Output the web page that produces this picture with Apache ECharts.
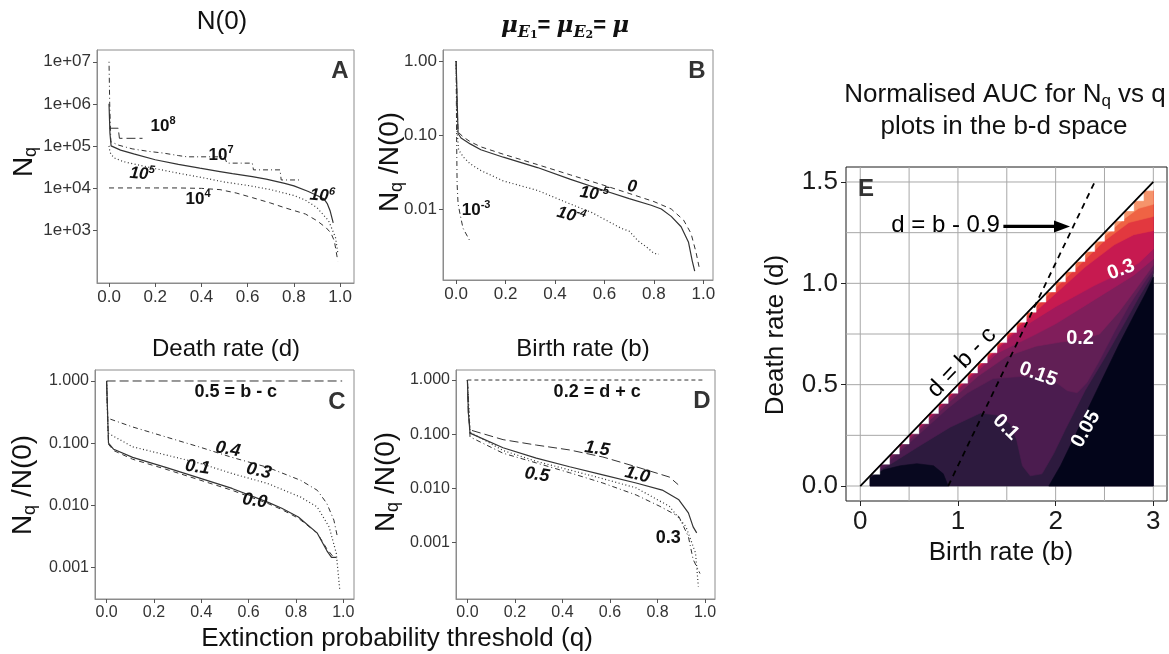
<!DOCTYPE html>
<html><head><meta charset="utf-8">
<script src="https://cdn.jsdelivr.net/npm/echarts@6.0.0/dist/echarts.min.js"></script>
<style>html,body{margin:0;padding:0;background:#fff;}#chart{width:1169px;height:654px;}</style>
</head><body><div id="chart"></div>
<script>
const FONT = '"Liberation Sans", Arial, Helvetica, sans-serif';

// ================= DATA =================
// Panels A-D : points are [q, log10(value)]
const Q_TICKS = [0, 0.2, 0.4, 0.6, 0.8, 1.0];

// ---- Panel A : N(0) ; value = Nq ----
const A_Y_TICKS = [3, 4, 5, 6, 7];            // 1e+03 ... 1e+07
const A_N0_1e4 = [[0,4.0],[0.1,4.0],[0.2,4.0],[0.3,4.0],[0.4,3.99],[0.48,3.96],[0.55,3.88],[0.62,3.77],[0.7,3.64],[0.76,3.53],[0.85,3.38],[0.9,3.22],[0.94,3.05],[0.96,2.93],[0.975,2.74],[0.99,2.26]];
const A_N0_1e5 = [[0,5.0],[0.004,4.85],[0.02,4.72],[0.06,4.63],[0.107,4.57],[0.2,4.46],[0.3,4.35],[0.4,4.25],[0.5,4.14],[0.6,4.06],[0.7,3.96],[0.8,3.82],[0.85,3.71],[0.9,3.53],[0.95,3.22],[0.98,2.82],[0.99,2.45]];
const A_N0_1e6 = [[0,6.0],[0.004,5.3],[0.009,5.0],[0.05,4.9],[0.107,4.81],[0.2,4.67],[0.3,4.56],[0.393,4.47],[0.48,4.39],[0.534,4.34],[0.62,4.27],[0.68,4.21],[0.76,4.11],[0.8,4.05],[0.86,3.92],[0.9,3.82],[0.93,3.74],[0.945,3.62],[0.957,3.45],[0.97,3.17]];
const A_N0_1e7 = [[0,7.0],[0.003,6.0],[0.008,5.1],[0.04,5.02],[0.1,4.93],[0.17,4.87],[0.234,4.83],[0.3,4.77],[0.338,4.74],[0.5,4.74],[0.51,4.59],[0.62,4.59],[0.625,4.43],[0.74,4.43],[0.745,4.19],[0.835,4.19]];
const A_N0_1e8 = [[0.002,5.42],[0.04,5.42],[0.045,5.18],[0.145,5.18]];

// ---- Panel B : mu ; value = Nq/N(0) ----
const B_Y_TICKS = [-2, -1, 0];                // 0.01, 0.10, 1.00
const B_mu_0    = [[0,0],[0.004,-0.6],[0.008,-0.96],[0.03,-1.03],[0.057,-1.09],[0.1,-1.16],[0.191,-1.26],[0.329,-1.4],[0.463,-1.54],[0.598,-1.68],[0.7,-1.79],[0.8,-1.9],[0.87,-2.0],[0.92,-2.15],[0.95,-2.33],[0.97,-2.58],[0.985,-2.82]];
const B_mu_1e5  = [[0,0],[0.004,-0.5],[0.008,-0.98],[0.02,-1.04],[0.057,-1.12],[0.1,-1.2],[0.191,-1.3],[0.329,-1.44],[0.463,-1.6],[0.598,-1.75],[0.7,-1.86],[0.789,-1.95],[0.83,-2.0],[0.87,-2.1],[0.91,-2.24],[0.94,-2.45],[0.955,-2.7],[0.965,-2.84]];
const B_mu_1e4  = [[0,0],[0.004,-0.95],[0.01,-1.2],[0.03,-1.3],[0.057,-1.39],[0.1,-1.48],[0.19,-1.62],[0.33,-1.75],[0.46,-1.93],[0.55,-2.05],[0.6,-2.14],[0.667,-2.26],[0.7,-2.3],[0.736,-2.43],[0.776,-2.53],[0.8,-2.6],[0.82,-2.61]];
const B_mu_1e3  = [[0,0],[0.002,-1.0],[0.004,-1.66],[0.008,-1.93],[0.016,-2.07],[0.028,-2.26],[0.057,-2.44]];

// ---- Panel C : death rate d ; value = Nq/N(0) ----
const CD_Y_TICKS = [-3, -2, -1, 0];           // 0.001 ... 1.000
const C_d_00 = [[0,0],[0.008,-1.02],[0.03,-1.12],[0.11,-1.26],[0.25,-1.42],[0.39,-1.59],[0.53,-1.76],[0.68,-1.97],[0.74,-2.07],[0.81,-2.21],[0.89,-2.45],[0.93,-2.7],[0.955,-2.82],[0.97,-2.85]];
const C_d_01 = [[0,0],[0.008,-1.0],[0.03,-1.1],[0.11,-1.23],[0.25,-1.39],[0.39,-1.56],[0.53,-1.73],[0.68,-1.95],[0.74,-2.05],[0.81,-2.19],[0.89,-2.45],[0.93,-2.73],[0.95,-2.84],[0.97,-2.84]];
const C_d_03 = [[0,0],[0.006,-0.84],[0.11,-1.06],[0.25,-1.19],[0.39,-1.32],[0.53,-1.49],[0.68,-1.65],[0.82,-1.87],[0.89,-2.03],[0.94,-2.35],[0.97,-2.77],[0.985,-3.37]];
const C_d_04 = [[0,0],[0.005,-0.6],[0.11,-0.74],[0.25,-0.9],[0.39,-1.06],[0.53,-1.23],[0.68,-1.39],[0.82,-1.6],[0.89,-1.76],[0.93,-1.97],[0.96,-2.24],[0.975,-2.51]];
const C_d_05 = [[0,0],[0.995,0]];

// ---- Panel D : birth rate b ; value = Nq/N(0) ----
const D_b_02 = [[0,0],[0.995,0]];
const D_b_03 = [[0,0],[0.011,-0.96],[0.15,-1.3],[0.29,-1.5],[0.43,-1.66],[0.57,-1.82],[0.71,-1.99],[0.85,-2.33],[0.92,-2.71],[0.96,-3.19],[0.972,-3.81]];
const D_b_05 = [[0,0],[0.011,-1.05],[0.15,-1.35],[0.29,-1.53],[0.43,-1.71],[0.57,-1.9],[0.71,-2.12],[0.81,-2.33],[0.89,-2.52],[0.93,-2.89],[0.95,-3.31],[0.979,-3.57]];
const D_b_10 = [[0,0],[0.004,-0.6],[0.011,-0.98],[0.15,-1.25],[0.29,-1.44],[0.43,-1.6],[0.57,-1.75],[0.71,-1.9],[0.82,-2.03],[0.89,-2.21],[0.93,-2.45],[0.95,-2.71],[0.965,-2.82]];
const D_b_15 = [[0,0],[0.004,-0.6],[0.011,-0.92],[0.15,-1.1],[0.29,-1.2],[0.43,-1.29],[0.57,-1.42],[0.71,-1.6],[0.85,-1.79],[0.887,-1.93]];

// ---- Panel E : normalised AUC contours in b-d space, [b, d] ----
const E_X_LABELS = [0, 1, 2, 3];
const E_X_GRID   = [0, 0.5, 1, 1.5, 2, 2.5, 3];
const E_Y_LABELS = [0, 0.5, 1, 1.5];
const E_Y_GRID   = [0, 0.25, 0.5, 0.75, 1, 1.25, 1.5];
const E_region      = [[0.1,0],[3.0,0],[3.0,1.46],[2.92,1.46],[0.1,0.05]];
const E_below_005   = [[1.93,0],[2.05,0.1],[2.2,0.25],[2.35,0.4],[2.5,0.55],[2.65,0.7],[2.8,0.84],[2.92,0.95],[3.0,1.03],[3.0,0]];
const E_low_blob    = [[0.1,0],[0.1,0.04],[0.24,0.08],[0.41,0.1],[0.58,0.11],[0.75,0.1],[0.85,0.06],[0.9,0]];
const E_contour_010 = [[0.12,0.06],[0.3,0.105],[0.58,0.19],[0.92,0.29],[1.23,0.36],[1.4,0.35],[1.53,0.31],[1.6,0.23],[1.66,0.1],[1.74,0.05],[1.86,0.06],[1.98,0.16],[2.1,0.28],[2.3,0.47],[2.5,0.63],[2.7,0.8],[2.85,0.93],[3.0,1.05]];
const E_contour_015 = [[0.14,0.07],[0.3,0.125],[0.6,0.255],[0.9,0.385],[1.1,0.46],[1.36,0.53],[1.64,0.54],[1.85,0.54],[1.98,0.52],[2.12,0.47],[2.22,0.46],[2.32,0.51],[2.45,0.62],[2.6,0.76],[2.75,0.89],[2.9,1.0],[3.0,1.07]];
const E_contour_020 = [[0.16,0.08],[0.3,0.137],[0.5,0.228],[0.9,0.41],[1.2,0.54],[1.5,0.64],[1.8,0.69],[2.05,0.71],[2.25,0.72],[2.45,0.75],[2.65,0.86],[2.85,0.99],[3.0,1.09]];
const E_contour_025 = [[0.18,0.09],[0.6,0.283],[1.0,0.475],[1.4,0.655],[1.8,0.75],[2.0,0.8],[2.2,0.86],[2.5,0.95],[2.8,1.04],[3.0,1.12]];
const E_contour_030 = [[0.2,0.1],[0.7,0.337],[1.2,0.577],[1.6,0.765],[2.0,0.885],[2.4,0.99],[2.66,1.05],[2.85,1.1],[3.0,1.17]];
const E_contour_035 = [[0.3,0.15],[1.0,0.487],[1.6,0.778],[2.0,0.95],[2.3,1.08],[2.6,1.19],[2.8,1.24],[3.0,1.26]];
const E_contour_040 = [[0.6,0.3],[1.2,0.592],[1.8,0.885],[2.2,1.07],[2.5,1.21],[2.75,1.3],[3.0,1.33]];
const E_contour_045 = [[1.8,0.9],[2.2,1.092],[2.5,1.232],[2.7,1.318],[2.85,1.37],[3.0,1.39]];
const E_edge_steps  = [0.1,0.2,0.3,0.4,0.5,0.6,0.7,0.8,0.9,1.0,1.1,1.2,1.3,1.4,1.5,1.6,1.7,1.8,1.9,2.0,2.1,2.2,2.3,2.4,2.5,2.6,2.7,2.8,2.9];
const E_line_dbc    = [[0,0],[3,1.5]];        // d = b - c
const E_line_d_b09  = [[0.9,0],[2.4,1.5]];    // d = b - 0.9
const E_arrow       = [[1.465,1.281,2.147,1.281]];

// annotation positions (data coordinates)
const A_labels = [
  {t:'10', s:'8', x:0.234, y:5.47, it:false, r:0},
  {t:'10', s:'7', x:0.485, y:4.78, it:false, r:0},
  {t:'10', s:'5', x:0.143, y:4.33, it:true,  r:-5},
  {t:'10', s:'4', x:0.385, y:3.74, it:false, r:0},
  {t:'10', s:'6', x:0.922, y:3.81, it:true,  r:-5}];
const B_labels = [
  {t:'0',  s:'',   x:0.712, y:-1.70, it:true,  r:-8},
  {t:'10', s:'-5', x:0.558, y:-1.80, it:true,  r:-8},
  {t:'10', s:'-4', x:0.465, y:-2.09, it:true,  r:-15},
  {t:'10', s:'-3', x:0.081, y:-2.02, it:false, r:0}];
const C_labels = [
  {t:'0.5 = b - c', s:'', x:0.546, y:-0.177, it:false, r:0},
  {t:'0.4', s:'', x:0.512, y:-1.10, it:true, r:-10},
  {t:'0.3', s:'', x:0.643, y:-1.45, it:true, r:-12},
  {t:'0.1', s:'', x:0.384, y:-1.39, it:true, r:-8},
  {t:'0.0', s:'', x:0.626, y:-1.93, it:true, r:-8}];
const D_labels = [
  {t:'0.2 = d + c', s:'', x:0.546, y:-0.22, it:false, r:0},
  {t:'1.5', s:'', x:0.546, y:-1.27, it:true, r:-8},
  {t:'1.0', s:'', x:0.715, y:-1.75, it:true, r:-14},
  {t:'0.5', s:'', x:0.293, y:-1.75, it:true, r:-8},
  {t:'0.3', s:'', x:0.845, y:-2.92, it:false, r:0}];
const E_labels = [
  {t:'0.3',  x:2.67, y:1.067, r:20},
  {t:'0.2',  x:2.25, y:0.73,  r:0},
  {t:'0.15', x:1.82, y:0.55,  r:-20},
  {t:'0.1',  x:1.49, y:0.29,  r:-45},
  {t:'0.05', x:2.31, y:0.28,  r:60}];

// ================= STYLE =================
const SOLID = 'solid', DASHED = [5,4], DOTTED = [1,2.5], DOTDASH = [1,3,5,3], LONGDASH = [9,4];
const LINE_COLOR = '#333';
const E_XR = [-0.146, 3.14], E_YR = [-0.074, 1.574];

const grids = [
  {left:97,  top:50,  width:257, height:233},
  {left:443, top:50,  width:270, height:230},
  {left:95,  top:370, width:259, height:229},
  {left:456, top:370, width:259, height:229},
  {left:846, top:167, width:321, height:334}
].map((g,i)=>Object.assign({show:true, borderColor: i<4 ? '#8c8c8c' : '#1a1a1a', borderWidth:1,
  backgroundColor:'rgba(0,0,0,0)', containLabel:false, outerBoundsMode:'none'}, g));

const panelRanges = [
  {x:[-0.052,1.06],  y:[1.74,7.28],   yt:A_Y_TICKS,  fmt:v=>'1e+0'+v, fs:17},
  {x:[-0.053,1.039], y:[-2.96,0.149], yt:B_Y_TICKS,  fmt:v=>Math.pow(10,v).toFixed(2), fs:17},
  {x:[-0.049,1.045], y:[-3.51,0.177], yt:CD_Y_TICKS, fmt:v=>Math.pow(10,v).toFixed(3), fs:16},
  {x:[-0.048,1.042], y:[-4.04,0.185], yt:CD_Y_TICKS, fmt:v=>Math.pow(10,v).toFixed(3), fs:16}
];

const xAxis = [], yAxis = [];
panelRanges.forEach((p,i)=>{
  xAxis.push({type:'value', gridIndex:i, min:p.x[0], max:p.x[1],
    axisLine:{show:true, onZero:false, lineStyle:{color:'#8c8c8c'}},
    axisTick:{show:true, length:4, lineStyle:{color:'#555'}, customValues:Q_TICKS},
    axisLabel:{customValues:Q_TICKS, formatter:v=>v.toFixed(1), fontSize:p.fs, color:'#333', margin:6, fontFamily:FONT},
    splitLine:{show:false}});
  yAxis.push({type:'value', gridIndex:i, min:p.y[0], max:p.y[1],
    axisLine:{show:true, onZero:false, lineStyle:{color:'#8c8c8c'}},
    axisTick:{show:true, length:4, lineStyle:{color:'#555'}, customValues:p.yt},
    axisLabel:{customValues:p.yt, formatter:p.fmt, fontSize:p.fs, color:'#333', margin:6, fontFamily:FONT},
    splitLine:{show:false}});
});
xAxis.push({type:'value', gridIndex:4, min:E_XR[0], max:E_XR[1],
  axisLine:{show:false, onZero:false},
  axisTick:{show:true, length:5, lineStyle:{color:'#222'}, customValues:E_X_LABELS},
  axisLabel:{customValues:E_X_LABELS, formatter:v=>String(v), fontSize:26, color:'#1a1a1a', margin:8, fontFamily:FONT},
  splitLine:{show:false}});
yAxis.push({type:'value', gridIndex:4, min:E_YR[0], max:E_YR[1],
  axisLine:{show:false, onZero:false},
  axisTick:{show:true, length:5, lineStyle:{color:'#222'}, customValues:E_Y_LABELS},
  axisLabel:{customValues:E_Y_LABELS, formatter:v=>v.toFixed(1), fontSize:26, color:'#1a1a1a', margin:8, fontFamily:FONT},
  splitLine:{show:false}});

const series = [];
function addLine(gi, data, type, width){
  series.push({type:'line', xAxisIndex:gi, yAxisIndex:gi, data:data, showSymbol:false, symbol:'none',
    silent:true, animation:false, clip:true,
    lineStyle:{color:LINE_COLOR, width:width || 1, type:type}});
}
addLine(0, A_N0_1e4, DASHED); addLine(0, A_N0_1e5, DOTTED, 1.2); addLine(0, A_N0_1e6, SOLID, 1.2);
addLine(0, A_N0_1e7, DOTDASH); addLine(0, A_N0_1e8, LONGDASH);
addLine(1, B_mu_0, DASHED); addLine(1, B_mu_1e5, SOLID, 1.2); addLine(1, B_mu_1e4, DOTTED, 1.2); addLine(1, B_mu_1e3, DOTDASH);
addLine(2, C_d_00, DASHED); addLine(2, C_d_01, SOLID, 1.2); addLine(2, C_d_03, DOTTED, 1.2); addLine(2, C_d_04, DOTDASH); addLine(2, C_d_05, LONGDASH);
addLine(3, D_b_02, [4,3]); addLine(3, D_b_03, DOTTED, 1.2); addLine(3, D_b_05, DOTDASH); addLine(3, D_b_10, SOLID, 1.2); addLine(3, D_b_15, LONGDASH);

// Panel E grid lines (major + minor), drawn through the axes
const E_gridLines = E_X_GRID.map(v=>[v, E_YR[0], v, E_YR[1]]).concat(E_Y_GRID.map(v=>[E_XR[0], v, E_XR[1], v]));
series.push({type:'custom', xAxisIndex:4, yAxisIndex:4, silent:true, animation:false, clip:true, z:0,
  data:E_gridLines,
  renderItem:(params, api)=>{
    const a = api.coord([api.value(0), api.value(1)]);
    const b = api.coord([api.value(2), api.value(3)]);
    return {type:'line', shape:{x1:a[0], y1:a[1], x2:b[0], y2:b[1]}, style:{stroke:'#a8a8a8', lineWidth:1}};
  }});

// Panel E filled contour bands (drawn lowest level first)
const E_bands = [
  {pts:E_region,    color:'#2d1a3e', band:false},
  {pts:E_below_005, color:'#03051a', band:false},
  {pts:E_low_blob,  color:'#08081f', band:false},
  {pts:E_contour_010, color:'#4b1c4f', band:true},
  {pts:E_contour_015, color:'#611f55', band:true},
  {pts:E_contour_020, color:'#801e5b', band:true},
  {pts:E_contour_025, color:'#a2195b', band:true},
  {pts:E_contour_030, color:'#c71a50', band:true},
  {pts:E_contour_035, color:'#e2383f', band:true},
  {pts:E_contour_040, color:'#ef6344', band:true},
  {pts:E_contour_045, color:'#f5946b', band:true}
];
const E_TOP_CLOSE = [[3.0,1.46],[2.92,1.46]];
series.push({type:'custom', xAxisIndex:4, yAxisIndex:4, silent:true, animation:false, clip:true, z:2,
  data:E_bands.map((b,i)=>[i]),
  renderItem:(params, api)=>{
    const b = E_bands[params.dataIndex];
    const pts = (b.band ? b.pts.concat(E_TOP_CLOSE) : b.pts).map(p=>api.coord(p));
    return {type:'polygon', shape:{points:pts}, style:{fill:b.color, stroke:b.color, lineWidth:0.6}};
  }});
// white grid-step notches along the d = b - c edge
series.push({type:'custom', xAxisIndex:4, yAxisIndex:4, silent:true, animation:false, clip:true, z:3,
  data:E_edge_steps.map(v=>[v]),
  renderItem:(params, api)=>{
    const b0 = api.value(0);
    const p1 = api.coord([b0+0.015, (b0+0.015)/2]);
    const p2 = api.coord([b0+0.1, (b0+0.1)/2]);
    const p3 = api.coord([b0+0.1, (b0+0.015)/2]);
    return {type:'polygon', shape:{points:[p1,p2,p3]}, style:{fill:'#fff', stroke:'#fff', lineWidth:0.4}};
  }});
series.push({type:'line', xAxisIndex:4, yAxisIndex:4, data:E_line_dbc, showSymbol:false, symbol:'none', silent:true, animation:false, z:4,
  lineStyle:{color:'#000', width:1.8, type:'solid'}});
series.push({type:'line', xAxisIndex:4, yAxisIndex:4, data:E_line_d_b09, showSymbol:false, symbol:'none', silent:true, animation:false, z:4,
  lineStyle:{color:'#000', width:1.8, type:[6,5]}});
series.push({type:'custom', xAxisIndex:4, yAxisIndex:4, silent:true, animation:false, clip:false, z:5,
  data:E_arrow,
  renderItem:(params, api)=>{
    const a = api.coord([api.value(0), api.value(1)]);
    const b = api.coord([api.value(2), api.value(3)]);
    const L = 16, W = 6;
    return {type:'group', children:[
      {type:'line', shape:{x1:a[0], y1:a[1], x2:b[0]-L+2, y2:b[1]}, style:{stroke:'#000', lineWidth:3.2}},
      {type:'polygon', shape:{points:[[b[0],b[1]],[b[0]-L,b[1]-W],[b[0]-L,b[1]+W]]}, style:{fill:'#000'}}
    ]};
  }});

const chart = echarts.init(document.getElementById('chart'), null, {renderer:'canvas', width:1169, height:654});
chart.setOption({
  animation:false,
  backgroundColor:'#fff',
  textStyle:{fontFamily:FONT},
  grid:grids, xAxis:xAxis, yAxis:yAxis, series:series
});

// ================= TEXT =================
function txt(x, y, text, o){
  o = o || {};
  return {type:'text', x:x, y:y, rotation:(o.rot||0)*Math.PI/180, z:100, silent:true,
    style:{text:text, fontSize:o.fs||16, fontFamily:o.ff||FONT, fontWeight:o.fw||'normal',
      fontStyle:o.it?'italic':'normal', fill:o.c||'#111', align:o.align||'center', verticalAlign:'middle', rich:o.rich}};
}
function supRich(fs, italic){
  return {
    b:{fontSize:fs, fontWeight:'bold', fontStyle:italic?'italic':'normal', fill:'#111', fontFamily:FONT, lineHeight:fs+4},
    s:{fontSize:Math.round(fs*0.65), fontWeight:'bold', fontStyle:italic?'italic':'normal', fill:'#111', fontFamily:FONT, verticalAlign:'top', lineHeight:Math.round(fs*0.65)}
  };
}
const gfx = [];
[[0,A_labels,17],[1,B_labels,17],[2,C_labels,18],[3,D_labels,18]].forEach(([gi, labels, fs])=>{
  labels.forEach(l=>{
    const p = chart.convertToPixel({gridIndex:gi}, [l.x, l.y]);
    const t = l.s ? '{b|'+l.t+'}{s|'+l.s+'}' : '{b|'+l.t+'}';
    gfx.push(txt(p[0], p[1], t, {rot:l.r, rich:supRich(fs, l.it)}));
  });
});
E_labels.forEach(l=>{
  const p = chart.convertToPixel({gridIndex:4}, [l.x, l.y]);
  gfx.push(txt(p[0], p[1], l.t, {rot:l.r, fs:20, fw:'bold', c:'#fff'}));
});
{
  const p = chart.convertToPixel({gridIndex:4}, [1.04, 0.61]);
  gfx.push(txt(p[0], p[1], 'd = b - c', {rot:46, fs:24, c:'#000'}));
  const q = chart.convertToPixel({gridIndex:4}, [1.43, 1.284]);
  gfx.push(txt(q[0], q[1], 'd = b - 0.9', {fs:24, c:'#000', align:'right'}));
}
// panel letters
gfx.push(txt(340, 71, 'A', {fs:24, fw:'bold', c:'#333'}));
gfx.push(txt(697, 71, 'B', {fs:24, fw:'bold', c:'#333'}));
gfx.push(txt(337, 402, 'C', {fs:24, fw:'bold', c:'#333'}));
gfx.push(txt(702, 401, 'D', {fs:24, fw:'bold', c:'#333'}));
gfx.push(txt(866, 189, 'E', {fs:24, fw:'bold', c:'#333'}));
// titles
gfx.push(txt(222, 22, 'N(0)', {fs:26}));
gfx.push(txt(565, 26, '{m|μ}{e|E}{n|1}{q|= }{m|μ}{e|E}{n|2}{q|= }{m|μ}', {rich:{
  m:{fontFamily:'"DejaVu Serif", serif', fontStyle:'italic', fontWeight:'bold', fontSize:23, lineHeight:30, fill:'#111'},
  e:{fontFamily:'"DejaVu Serif", serif', fontStyle:'italic', fontWeight:'bold', fontSize:16, verticalAlign:'bottom', lineHeight:22, fill:'#111'},
  n:{fontFamily:'"DejaVu Serif", serif', fontWeight:'bold', fontSize:11, verticalAlign:'bottom', lineHeight:11, fill:'#111'},
  q:{fontFamily:FONT, fontWeight:'bold', fontSize:22, lineHeight:30, fill:'#111'}}}));
gfx.push(txt(226, 349, 'Death rate (d)', {fs:24}));
gfx.push(txt(583, 349, 'Birth rate (b)', {fs:24}));
gfx.push(txt(397, 639, 'Extinction probability threshold (q)', {fs:26}));
// y-axis titles A-D
const nRich = {n:{fontSize:28, fontFamily:FONT, fill:'#111', lineHeight:32}, s:{fontSize:18, fontFamily:FONT, fill:'#111', verticalAlign:'bottom', lineHeight:18}};
gfx.push(txt(24, 162, '{n|N}{s|q}', {rot:90, rich:nRich}));
gfx.push(txt(390, 162, '{n|N}{s|q}{n| /N(0)}', {rot:90, rich:nRich}));
gfx.push(txt(23, 485, '{n|N}{s|q}{n| /N(0)}', {rot:90, rich:nRich}));
gfx.push(txt(386, 482, '{n|N}{s|q}{n| /N(0)}', {rot:90, rich:nRich}));
// panel E texts
const tRich = {t:{fontSize:26, fontFamily:FONT, fill:'#111', lineHeight:30}, s:{fontSize:17, fontFamily:FONT, fill:'#111', verticalAlign:'bottom', lineHeight:17}};
gfx.push(txt(1005, 95, '{t|Normalised AUC for N}{s|q}{t| vs q}', {rich:tRich}));
gfx.push(txt(1004, 127, 'plots in the b-d space', {fs:26}));
gfx.push(txt(776, 335, 'Death rate (d)', {fs:26, rot:90}));
gfx.push(txt(1001, 553, 'Birth rate (b)', {fs:26}));

chart.setOption({graphic:gfx});
</script></body></html>
